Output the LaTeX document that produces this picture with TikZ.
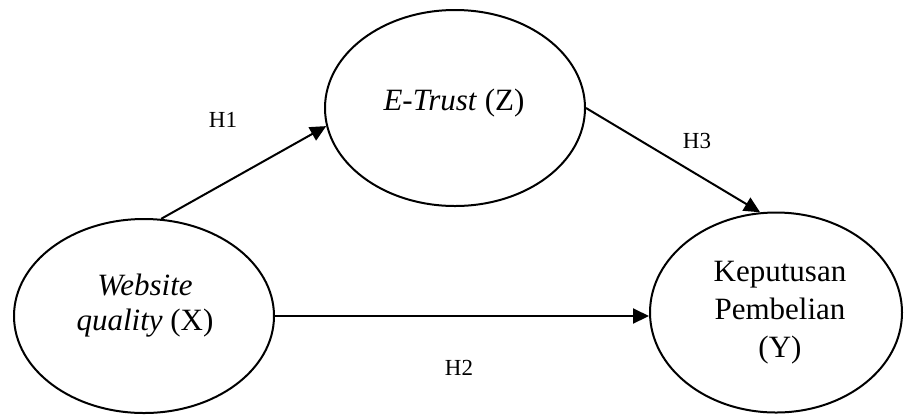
\documentclass[tikz,border=0pt]{standalone}
\usepackage{fontspec}
\setmainfont{Liberation Serif}
\usetikzlibrary{shapes.geometric,arrows.meta}
\tikzset{
  construct/.style={draw=black, line width=1pt, ellipse, inner sep=0pt},
  path arrow/.style={draw=black, line width=1pt, -{Triangle[length=8pt,width=7.5pt]}},
  maintext/.style={font=\fontsize{15.5}{19}\selectfont, align=center, anchor=base, inner sep=0pt},
  hlabel/.style={font=\fontsize{11.5}{13}\selectfont, inner sep=0pt}
}
\begin{document}
\begin{tikzpicture}[x=0.5pt,y=-0.5pt]
\useasboundingbox (0,0) rectangle (904,414);
% constructs
\node[construct, minimum width=130pt, minimum height=97pt] (X) at (144,316) {};
\node[construct, minimum width=130pt, minimum height=98pt] (Z) at (455,108) {};
\node[construct, minimum width=126pt, minimum height=100pt] (Y) at (776,312.5) {};
% texts (base anchor = baseline of the last line)
\node[maintext] (Xtxt) at (145,330) {\textit{Website}\\[-1.5pt]\textit{quality} (X)};
\node[maintext] (Ztxt) at (454,110) {\textit{E-Trust} (Z)};
\node[maintext] (Ytxt) at (780,357) {Keputusan\\Pembelian\\(Y)};
% connectors
\draw[path arrow] (X.80) -- (Z.188);
\draw[path arrow] (Z.0) -- (Y.99.8);
\draw[path arrow] (X.east) -- (X.east -| Y.west);
% labels
\node[hlabel] (H1) at (223,120) {H1};
\node[hlabel] (H2) at (459,368) {H2};
\node[hlabel] (H3) at (697,141) {H3};
\end{tikzpicture}
\end{document}
